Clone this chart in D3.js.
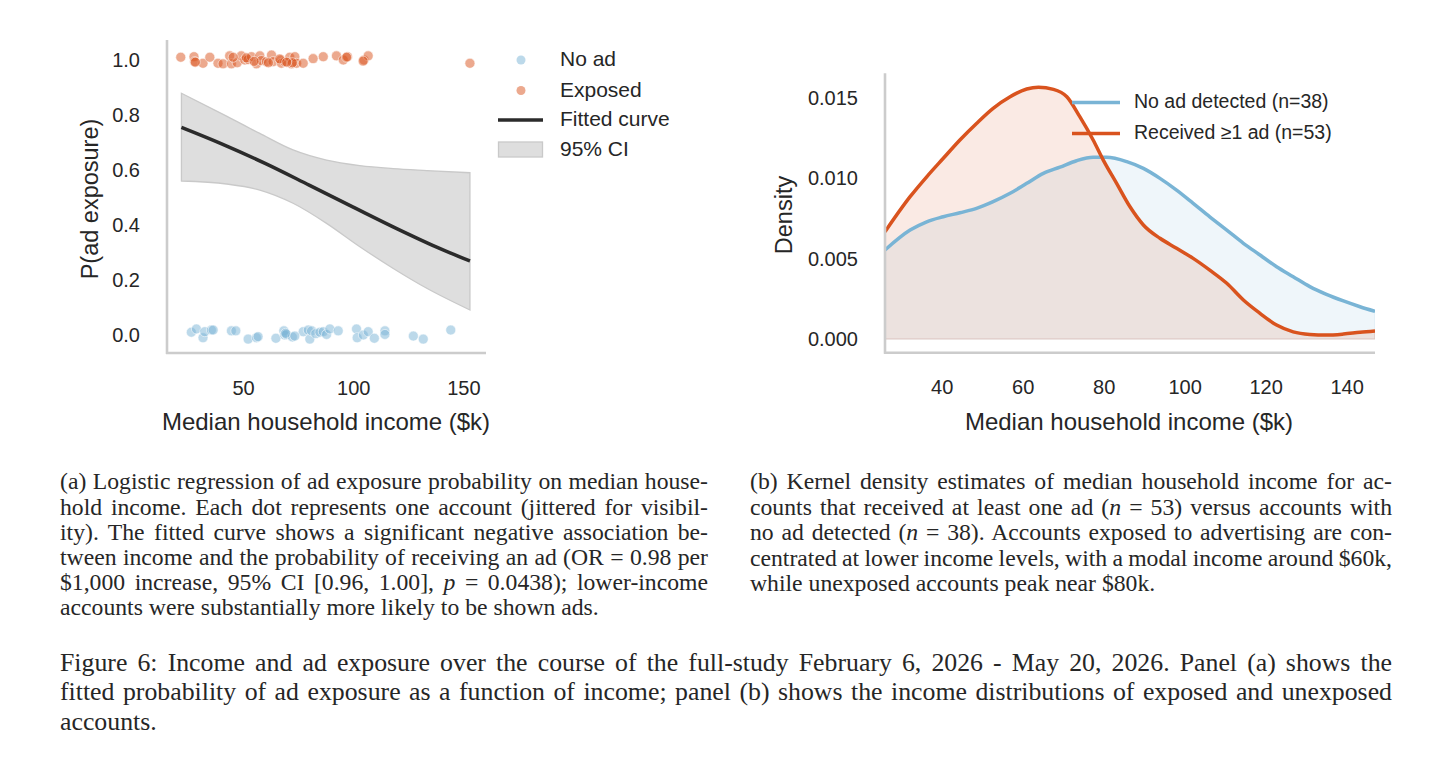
<!DOCTYPE html>
<html>
<head>
<meta charset="utf-8">
<script src="https://cdn.jsdelivr.net/npm/d3@7"></script>
<style>
  body { margin: 0; background: #fff; }
  text { fill: #262626; }
  .sans { font-family: "Liberation Sans", Arial, sans-serif; }
  .serif { font-family: "Liberation Serif", "Times New Roman", serif; fill: #000; }
</style>
</head>
<body>
<div id="chart"></div>
<script>
// panel (a): jittered accounts
const exposedIncome = [21.7, 27.7, 28.0, 31.8, 34.9, 38.6, 40.9, 43.9, 44.7, 47.3, 49.2, 50.8, 52.3, 53.8, 56.1, 57.6, 58.3, 60.6, 62.9, 63.6, 67.0, 67.4, 68.9, 71.2, 72.0, 73.5, 74.3, 77.3, 81.8, 86.4, 92.4, 95.5, 97.4, 104.9, 106.8, 153.0, 28.3, 51.5, 66.6, 72.4, 97.0, 104.5, 61.5, 55.0, 69.8, 45.5];
const exposedY = [1.010, 1.012, 0.994, 0.988, 1.010, 0.988, 0.986, 1.015, 0.986, 0.990, 1.015, 1.000, 1.002, 1.012, 0.986, 1.015, 0.998, 0.994, 1.018, 0.994, 1.000, 0.988, 0.994, 1.010, 0.986, 1.012, 0.988, 0.988, 1.005, 1.012, 1.015, 1.000, 1.012, 1.000, 1.015, 0.988, 0.992, 1.008, 1.004, 0.990, 1.010, 0.996, 0.990, 0.995, 0.992, 1.010];
const noAdIncome = [26.5, 28.8, 31.8, 32.6, 35.6, 36.4, 44.7, 46.7, 52.3, 56.1, 56.8, 64.9, 68.5, 68.9, 69.7, 72.4, 77.3, 79.6, 80.3, 81.1, 83.0, 84.9, 86.4, 87.9, 89.4, 93.2, 101.5, 101.8, 104.6, 106.8, 109.6, 114.4, 114.4, 127.3, 131.8, 144.3, 69.3, 73.5];
const noAdY = [0.010, 0.022, -0.010, 0.012, 0.018, 0.018, 0.015, 0.015, -0.015, -0.010, -0.006, -0.012, 0.015, 0.000, 0.002, -0.007, 0.012, 0.018, -0.015, 0.015, 0.005, 0.010, 0.012, 0.002, 0.022, 0.015, 0.022, -0.010, 0.000, 0.012, -0.012, 0.015, 0.002, -0.004, -0.015, 0.018, 0.006, -0.004];

// fitted curve and 95% CI
const fitIncome = [22, 40, 60, 80, 100, 120, 140, 153];
const fitProb = [0.755, 0.696, 0.624, 0.545, 0.465, 0.386, 0.312, 0.269];
const ciIncome = [22, 42.5, 57.6, 72.7, 87.9, 103, 118.2, 133.4, 153];
const ciUpper = [0.879, 0.796, 0.733, 0.673, 0.636, 0.616, 0.605, 0.598, 0.590];
const ciLower = [0.560, 0.549, 0.527, 0.479, 0.406, 0.321, 0.242, 0.170, 0.091];

const ticksA_x = [50, 100, 150];
const ticksA_y = [0, 0.2, 0.4, 0.6, 0.8, 1.0];

// panel (b): KDE curves
const kdeIncome = [26, 32.2, 36.3, 40.4, 44.5, 48.6, 52.7, 56.9, 61.0, 63.9, 67.6, 70.9, 74.1, 77.4, 79.9, 83.2, 86.5, 89.8, 93.9, 98.0, 102.1, 106.2, 110.4, 114.5, 118.6, 122.7, 126.8, 130.9, 135.0, 139.2, 143.3, 147];
const kdeReceived = [0.00668, 0.00886, 0.0101, 0.01125, 0.01239, 0.01342, 0.01436, 0.01508, 0.01556, 0.01567, 0.01554, 0.01508, 0.01384, 0.01239, 0.01114, 0.00969, 0.00823, 0.0071, 0.00627, 0.00565, 0.00502, 0.00429, 0.00347, 0.00243, 0.0016, 0.00087, 0.00045, 0.00029, 0.00025, 0.00031, 0.00042, 0.0005];
const kdeNoAdIncome = [26, 32.2, 36.3, 40.4, 44.5, 48.6, 52.7, 56.9, 61, 65.1, 69.2, 73.3, 77.4, 80.7, 85.7, 89.8, 93.9, 98, 102.1, 106.2, 110.4, 114.5, 118.6, 122.7, 126.8, 130.9, 135, 139.2, 143.3, 147];
const kdeNoAd = [0.00554, 0.00678, 0.0073, 0.00761, 0.00786, 0.00813, 0.00855, 0.00907, 0.00969, 0.01031, 0.0107, 0.0111, 0.01131, 0.01131, 0.01104, 0.01062, 0.01, 0.00927, 0.00845, 0.00761, 0.00678, 0.00596, 0.00523, 0.0045, 0.00388, 0.00326, 0.00278, 0.00237, 0.00201, 0.00172];

const ticksB_x = [40, 60, 80, 100, 120, 140];
const ticksB_y = [0, 0.005, 0.010, 0.015];

const legendA = ['No ad', 'Exposed', 'Fitted curve', '95% CI'];
const legendB = ['No ad detected (n=38)', 'Received \u22651 ad (n=53)'];

// captions; *x* marks italic math
const captionA = [
  '(a) Logistic regression of ad exposure probability on median house-',
  'hold income. Each dot represents one account (jittered for visibil-',
  'ity). The fitted curve shows a significant negative association be-',
  'tween income and the probability of receiving an ad (OR = 0.98 per',
  '$1,000 increase, 95% CI [0.96, 1.00], *p* = 0.0438); lower-income',
  'accounts were substantially more likely to be shown ads.'
];
const captionB = [
  '(b) Kernel density estimates of median household income for ac-',
  'counts that received at least one ad (*n* = 53) versus accounts with',
  'no ad detected (*n* = 38). Accounts exposed to advertising are con-',
  'centrated at lower income levels, with a modal income around $60k,',
  'while unexposed accounts peak near $80k.'
];
const captionFig = [
  'Figure 6: Income and ad exposure over the course of the full-study February 6, 2026 - May 20, 2026. Panel (a) shows the',
  'fitted probability of ad exposure as a function of income; panel (b) shows the income distributions of exposed and unexposed',
  'accounts.'
];

const BLUE = '#79b4d5';
const ORANGE = '#d9531e';
const SPINE = '#cccccc';

const draw = () => {
  const svg = d3.select('#chart')
    .append('svg')
    .attr('width', 1456)
    .attr('height', 775);

  // ---------- panel (a) ----------
  const dimsA = { left: 167, top: 40, width: 319, height: 313 };

  const xScaleA = d3.scaleLinear()
    .domain([15.45, 160.3])
    .range([dimsA.left, dimsA.left + dimsA.width]);
  const yScaleA = d3.scaleLinear()
    .domain([-0.0655, 1.0727])
    .range([dimsA.top + dimsA.height, dimsA.top]);

  const gA = svg.append('g');

  gA.append('path')
    .datum(ciIncome.map((x, i) => ({ x, lo: ciLower[i], hi: ciUpper[i] })))
    .attr('fill', '#dedede')
    .attr('stroke', '#c9c9c9')
    .attr('stroke-width', 1.3)
    .attr('d', d3.area()
      .x((d) => xScaleA(d.x))
      .y0((d) => yScaleA(d.lo))
      .y1((d) => yScaleA(d.hi))
      .curve(d3.curveMonotoneX));

  gA.append('path')
    .datum(fitIncome.map((x, i) => ({ x, y: fitProb[i] })))
    .attr('fill', 'none')
    .attr('stroke', '#2b2b2b')
    .attr('stroke-width', 3.5)
    .attr('d', d3.line()
      .x((d) => xScaleA(d.x))
      .y((d) => yScaleA(d.y))
      .curve(d3.curveMonotoneX));

  const dots = (xs, ys, color) => {
    gA.append('g')
      .selectAll('circle')
      .data(xs.map((x, i) => ({ x, y: ys[i] })))
      .join('circle')
      .attr('cx', (d) => xScaleA(d.x))
      .attr('cy', (d) => yScaleA(d.y))
      .attr('r', 5)
      .attr('fill', color)
      .attr('fill-opacity', 0.5)
      .attr('stroke', '#fff')
      .attr('stroke-opacity', 0.7)
      .attr('stroke-width', 0.8);
  };
  dots(noAdIncome, noAdY, BLUE);
  dots(exposedIncome, exposedY, ORANGE);

  // axes (no tick marks, seaborn white style)
  const xAxisA = gA.append('g')
    .attr('transform', `translate(0, ${dimsA.top + dimsA.height})`)
    .call(d3.axisBottom(xScaleA).tickValues(ticksA_x).tickSize(0).tickPadding(28));
  const yAxisA = gA.append('g')
    .attr('transform', `translate(${dimsA.left}, 0)`)
    .call(d3.axisLeft(yScaleA).tickValues(ticksA_y).tickSize(0).tickPadding(27).tickFormat(d3.format('.1f')));
  [xAxisA, yAxisA].forEach((ax) => {
    ax.select('.domain').remove();
    ax.selectAll('text').attr('class', 'sans').style('font-size', '20px').attr('fill', '#262626');
  });

  gA.append('line')
    .attr('x1', dimsA.left).attr('x2', dimsA.left)
    .attr('y1', dimsA.top).attr('y2', dimsA.top + dimsA.height + 1)
    .attr('stroke', SPINE).attr('stroke-width', 2.6);
  gA.append('line')
    .attr('x1', dimsA.left - 1).attr('x2', dimsA.left + dimsA.width)
    .attr('y1', dimsA.top + dimsA.height).attr('y2', dimsA.top + dimsA.height)
    .attr('stroke', SPINE).attr('stroke-width', 2.6);

  gA.append('text')
    .attr('class', 'sans')
    .attr('x', 326).attr('y', 430)
    .attr('text-anchor', 'middle')
    .style('font-size', '24px')
    .text('Median household income ($k)');
  gA.append('text')
    .attr('class', 'sans')
    .attr('transform', 'translate(98, 199) rotate(-90)')
    .attr('text-anchor', 'middle')
    .style('font-size', '23.5px')
    .text('P(ad exposure)');

  // legend (a)
  const legA = gA.append('g').attr('class', 'sans');
  const legRowsA = [60, 90.5, 120, 150];
  legA.append('circle').attr('cx', 521).attr('cy', legRowsA[0]).attr('r', 4.5)
    .attr('fill', BLUE).attr('fill-opacity', 0.5);
  legA.append('circle').attr('cx', 521).attr('cy', legRowsA[1]).attr('r', 4.5)
    .attr('fill', ORANGE).attr('fill-opacity', 0.5);
  legA.append('line').attr('x1', 498).attr('x2', 543)
    .attr('y1', legRowsA[2]).attr('y2', legRowsA[2])
    .attr('stroke', '#2b2b2b').attr('stroke-width', 3.5);
  legA.append('rect').attr('x', 498.5).attr('y', legRowsA[3] - 8).attr('width', 44).attr('height', 15)
    .attr('fill', '#dedede').attr('stroke', '#c9c9c9').attr('stroke-width', 1.3);
  legA.selectAll('text')
    .data(legendA)
    .join('text')
    .attr('x', 560)
    .attr('y', (_, i) => legRowsA[i] - 1)
    .attr('dy', '0.35em')
    .style('font-size', '21px')
    .text((d) => d);

  // ---------- panel (b) ----------
  const dimsB = { left: 885, top: 73.3, width: 490, height: 279.4 };

  const xScaleB = d3.scaleLinear()
    .domain([26, 147])
    .range([dimsB.left, dimsB.left + dimsB.width]);
  const yScaleB = d3.scaleLinear()
    .domain([-0.00085, 0.01654])
    .range([dimsB.top + dimsB.height, dimsB.top]);

  const gB = svg.append('g');
  svg.append('defs').append('clipPath').attr('id', 'clipB')
    .append('rect')
    .attr('x', dimsB.left).attr('y', dimsB.top - 20)
    .attr('width', dimsB.width).attr('height', dimsB.height + 20);

  const plotB = gB.append('g').attr('clip-path', 'url(#clipB)');

  const kdeSeries = [
    { color: BLUE, pts: kdeNoAdIncome.map((x, i) => ({ x, y: kdeNoAd[i] })) },
    { color: ORANGE, pts: kdeIncome.map((x, i) => ({ x, y: kdeReceived[i] })) }
  ];

  const areaB = d3.area()
    .x((d) => xScaleB(d.x))
    .y0(yScaleB(0))
    .y1((d) => yScaleB(d.y))
    .curve(d3.curveMonotoneX);
  const lineB = d3.line()
    .x((d) => xScaleB(d.x))
    .y((d) => yScaleB(d.y))
    .curve(d3.curveMonotoneX);

  kdeSeries.forEach((s) => {
    plotB.append('path')
      .datum(s.pts)
      .attr('fill', s.color)
      .attr('fill-opacity', 0.12)
      .attr('stroke', s.color)
      .attr('stroke-opacity', 0.15)
      .attr('stroke-width', 1.2)
      .attr('d', areaB);
  });
  kdeSeries.forEach((s) => {
    plotB.append('path')
      .datum(s.pts)
      .attr('fill', 'none')
      .attr('stroke', s.color)
      .attr('stroke-width', 3.5)
      .attr('d', lineB);
  });

  const xAxisB = gB.append('g')
    .attr('transform', `translate(0, ${dimsB.top + dimsB.height})`)
    .call(d3.axisBottom(xScaleB).tickValues(ticksB_x).tickSize(0).tickPadding(27.5));
  const yAxisB = gB.append('g')
    .attr('transform', `translate(${dimsB.left}, 0)`)
    .call(d3.axisLeft(yScaleB).tickValues(ticksB_y).tickSize(0).tickPadding(27).tickFormat(d3.format('.3f')));
  [xAxisB, yAxisB].forEach((ax) => {
    ax.select('.domain').remove();
    ax.selectAll('text').attr('class', 'sans').style('font-size', '20px').attr('fill', '#262626');
  });

  gB.append('line')
    .attr('x1', dimsB.left).attr('x2', dimsB.left)
    .attr('y1', dimsB.top).attr('y2', dimsB.top + dimsB.height + 1)
    .attr('stroke', SPINE).attr('stroke-width', 2.6);
  gB.append('line')
    .attr('x1', dimsB.left - 1).attr('x2', dimsB.left + dimsB.width)
    .attr('y1', dimsB.top + dimsB.height).attr('y2', dimsB.top + dimsB.height)
    .attr('stroke', SPINE).attr('stroke-width', 2.6);

  gB.append('text')
    .attr('class', 'sans')
    .attr('x', 1129).attr('y', 430)
    .attr('text-anchor', 'middle')
    .style('font-size', '24px')
    .text('Median household income ($k)');
  gB.append('text')
    .attr('class', 'sans')
    .attr('transform', 'translate(792, 215) rotate(-90)')
    .attr('text-anchor', 'middle')
    .style('font-size', '23.5px')
    .text('Density');

  const legRowsB = [102.5, 133.5];
  const legB = gB.append('g').attr('class', 'sans');
  legB.selectAll('line')
    .data(legendB)
    .join('line')
    .attr('x1', 1072).attr('x2', 1120)
    .attr('y1', (_, i) => legRowsB[i]).attr('y2', (_, i) => legRowsB[i])
    .attr('stroke', (_, i) => [BLUE, ORANGE][i])
    .attr('stroke-width', 3.5);
  legB.selectAll('text')
    .data(legendB)
    .join('text')
    .attr('x', 1134)
    .attr('y', (_, i) => legRowsB[i] - 1)
    .attr('dy', '0.35em')
    .style('font-size', '19.5px')
    .text((d) => d);

  // ---------- captions (justified by widening word gaps) ----------
  const writeLines = (lines, x, width, baselines, size) => {
    const g = svg.append('g').attr('class', 'serif').style('font-size', size + 'px');
    lines.forEach((line, i) => {
      const t = g.append('text').attr('x', x).attr('y', baselines[i]);
      line.split('*').forEach((part, j) => {
        t.append('tspan')
          .style('font-style', j % 2 ? 'italic' : 'normal')
          .text(part);
      });
      if (i < lines.length - 1) {
        const natural = t.node().getComputedTextLength();
        const gaps = (line.match(/ /g) || []).length;
        if (gaps > 0) t.attr('word-spacing', (width - natural) / gaps);
      }
    });
  };
  writeLines(captionA, 60, 648, [489, 514.5, 539.5, 564.5, 590, 615], 23.7);
  writeLines(captionB, 750, 642, [489, 515, 540, 565.5, 591], 23.7);
  writeLines(captionFig, 60, 1332, [671, 700, 730], 25.8);
};

draw();
</script>
</body>
</html>
